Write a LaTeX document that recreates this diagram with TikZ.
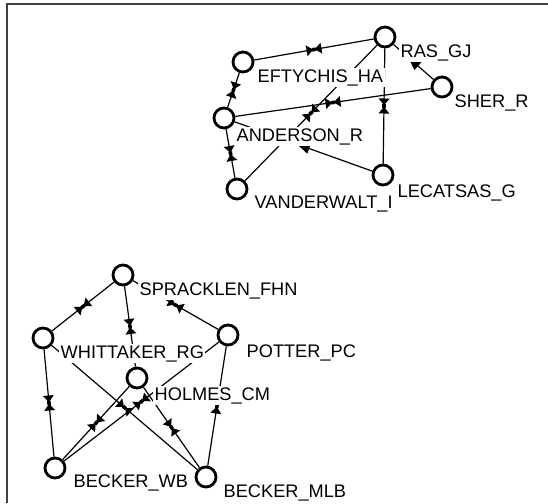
\documentclass[tikz,border=0pt]{standalone}
\usepackage{fontspec}
\setmainfont{Liberation Sans}
\usetikzlibrary{decorations.markings}
\tikzset{
  vert/.style={circle, draw=black, line width=2.8pt, fill=white, minimum size=20pt, inner sep=0pt},
  lab/.style={anchor=base west, fill=white, inner sep=1.5pt, text=black, font=\fontsize{18.2}{20}\selectfont},
  tie/.style={line width=1.2pt, postaction={decorate}, decoration={markings, mark=at position 0.5 with {\fill (-0.8pt,0)--(-7.5pt,5.5pt)--(-7.5pt,-5.5pt)--cycle; \fill (0.8pt,0)--(7.5pt,5.5pt)--(7.5pt,-5.5pt)--cycle; \fill (-2pt,-1.8pt) rectangle (2pt,1.8pt);}}},
  arc/.style={line width=1.2pt, postaction={decorate}, decoration={markings, mark=at position 0.5 with {\fill (7pt,0)--(-6pt,5.5pt)--(-6pt,-5.5pt)--cycle;}}},
  frameline/.style={draw=black!75, line width=1.2pt}
}
\begin{document}
\begin{tikzpicture}[x=1pt,y=-1pt]
\useasboundingbox (0,0) rectangle (548,503);
\fill[white] (0,0) rectangle (548,503);
\coordinate (fbl) at (7,503);
\coordinate (ftl) at (7,4);
\coordinate (ftr) at (548,4);
\draw[frameline] (fbl) -- (ftl) -- (ftr);
% vertices
\node[vert] (RAS) at (385,37) {};
\node[vert] (EFT) at (243,62) {};
\node[vert] (SHER) at (442,87) {};
\node[vert] (AND) at (224,118) {};
\node[vert] (LEC) at (383,175) {};
\node[vert] (VAN) at (237,189) {};
\node[vert] (SPR) at (123,275) {};
\node[vert] (WHI) at (43,338) {};
\node[vert] (POT) at (228,335) {};
\node[vert] (HOL) at (137,378) {};
\node[vert] (BWB) at (55,468) {};
\node[vert] (BMLB) at (206,477) {};
% ties
\draw[tie] (EFT) -- (RAS);
\draw[tie] (EFT) -- (AND);
\draw[tie] (SHER) -- (AND);
\draw[arc] (SHER) -- (RAS);
\draw[tie] (RAS) -- (LEC);
\draw[tie] (RAS) -- (VAN);
\draw[tie] (AND) -- (VAN);
\draw[arc] (LEC) -- (AND);
\draw[tie] (SPR) -- (WHI);
\draw[tie] (SPR) -- (HOL);
\draw[tie] (POT) -- (SPR);
\draw[tie] (POT) -- (BWB);
\draw[tie] (HOL) -- (BWB);
\draw[tie] (WHI) -- (BWB);
\draw[tie] (WHI) -- (BMLB);
\draw[tie] (HOL) -- (BMLB);
\draw[tie] (BMLB) -- (POT);
% labels
\node[lab] (lRAS) at (399,57) {RAS\_GJ};
\node[lab] (lEFT) at (256,82) {EFTYCHIS\_HA};
\node[lab] (lSHER) at (453,107) {SHER\_R};
\node[lab] (lAND) at (235,141) {ANDERSON\_R};
\node[lab] (lLEC) at (396,197) {LECATSAS\_G};
\node[lab] (lVAN) at (253,208) {VANDERWALT\_I};
\node[lab] (lSPR) at (138,295) {SPRACKLEN\_FHN};
\node[lab] (lWHI) at (59,358) {WHITTAKER\_RG};
\node[lab] (lPOT) at (245,357) {POTTER\_PC};
\node[lab] (lHOL) at (153,400) {HOLMES\_CM};
\node[lab] (lBWB) at (72,487) {BECKER\_WB};
\node[lab] (lBMLB) at (222,497) {BECKER\_MLB};
\end{tikzpicture}
\end{document}
